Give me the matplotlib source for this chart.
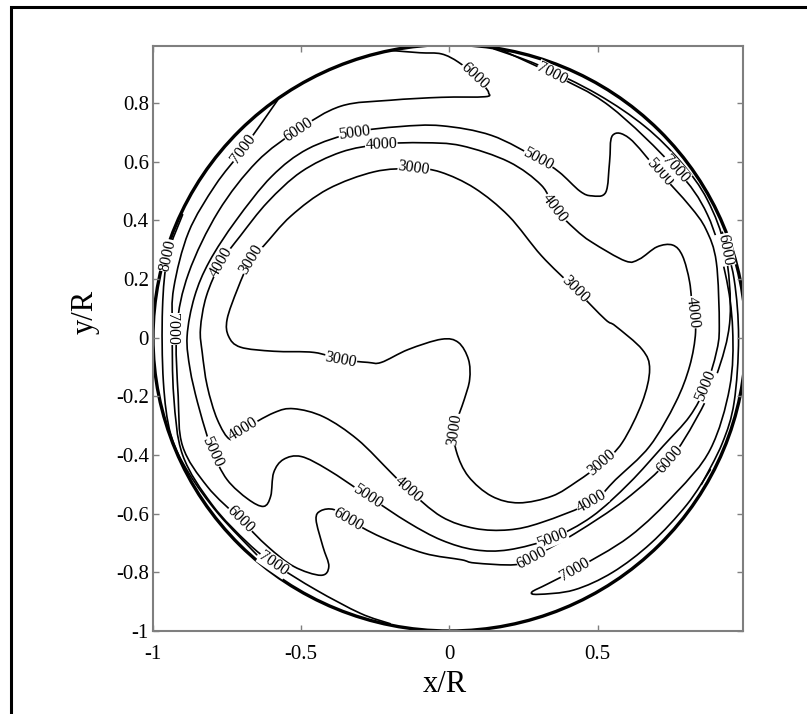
import numpy as np
import matplotlib
matplotlib.use("Agg")
import matplotlib.pyplot as plt
from matplotlib.patches import Circle, Rectangle, PathPatch
from matplotlib.path import Path

plt.rcParams['font.family'] = ['Liberation Serif', 'DejaVu Serif']

# ---------------- data (x/R, y/R) ----------------
c3000_x = [-0.12, -0.03, 0.085, 0.20, 0.31, 0.424, 0.525, 0.56, 0.65, 0.675, 0.65, 0.583, 0.515,
           0.43, 0.346, 0.234, 0.142, 0.064, 0.024, 0.017, 0.05, 0.068, 0.064, 0.03, -0.027, -0.139,
           -0.23, -0.275, -0.366, -0.457, -0.593, -0.705, -0.745, -0.75, -0.715, -0.67, -0.627,
           -0.535, -0.41, -0.254, -0.12]
c3000_y = [0.577, 0.565, 0.51, 0.415, 0.28, 0.166, 0.063, 0.04, -0.04, -0.108, -0.22, -0.357, -0.427,
           -0.49, -0.54, -0.563, -0.54, -0.473, -0.39, -0.313, -0.21, -0.142, -0.074, -0.016, -0.005,
           -0.04, -0.084, -0.084, -0.074, -0.05, -0.046, -0.032, 0.005, 0.063, 0.166, 0.268, 0.313,
           0.415, 0.507, 0.566, 0.577]

c4000_x = [-0.23, -0.09, 0.04, 0.2, 0.31, 0.356, 0.424, 0.48, 0.593, 0.64, 0.70, 0.753, 0.786, 0.81,
           0.82, 0.83, 0.81, 0.763, 0.675, 0.56, 0.48, 0.31, 0.2, 0.085, -0.027, -0.139, -0.197, -0.31,
           -0.424, -0.525, -0.593, -0.695, -0.739, -0.783, -0.817, -0.834, -0.84, -0.82, -0.77, -0.705,
           -0.613, -0.5, -0.366, -0.23]
c4000_y = [0.66, 0.665, 0.655, 0.6, 0.52, 0.44, 0.37, 0.326, 0.262, 0.268, 0.31, 0.316, 0.279, 0.19,
           0.087, 0.018, -0.097, -0.22, -0.37, -0.484, -0.56, -0.63, -0.655, -0.65, -0.61, -0.518,
           -0.46, -0.347, -0.27, -0.242, -0.256, -0.313, -0.347, -0.279, -0.165, -0.05, 0.03, 0.142,
           0.258, 0.348, 0.463, 0.566, 0.633, 0.66]

c5000_x = [-0.32, -0.17, -0.027, 0.142, 0.3, 0.37, 0.44, 0.48, 0.527, 0.54, 0.55, 0.607, 0.708, 0.81,
           0.865, 0.9, 0.91, 0.9, 0.865, 0.81, 0.72, 0.607, 0.48, 0.346, 0.2, 0.085, -0.027, -0.139,
           -0.275, -0.41, -0.5, -0.56, -0.593, -0.603, -0.627, -0.68, -0.75, -0.8, -0.817, -0.85,
           -0.875, -0.885, -0.86, -0.81, -0.72, -0.6, -0.478, -0.32]
c5000_y = [0.70, 0.72, 0.723, 0.69, 0.61, 0.565, 0.5, 0.484, 0.496, 0.6, 0.69, 0.68, 0.565, 0.45,
           0.37, 0.258, 0.04, -0.05, -0.165, -0.268, -0.37, -0.495, -0.61, -0.683, -0.723, -0.723,
           -0.69, -0.63, -0.54, -0.45, -0.405, -0.415, -0.46, -0.54, -0.575, -0.55, -0.484, -0.39,
           -0.336, -0.22, -0.107, 0.005, 0.14, 0.26, 0.40, 0.55, 0.644, 0.70]

c6000_x = [-0.2, -0.1, -0.027, 0.03, 0.085, 0.12, 0.132, 0.12, -0.027, -0.2, -0.366, -0.51, -0.65,
           -0.78, -0.88, -0.92, -0.915, -0.9, -0.817, -0.705, -0.613, -0.525, -0.434, -0.407, -0.427,
           -0.45, -0.434, -0.39, -0.342, -0.23, -0.085, 0.04, 0.085, 0.22, 0.278, 0.424, 0.593, 0.742,
           0.83, 0.9, 0.946, 0.93, 0.87, 0.78, 0.66, 0.5, 0.3, 0.15]
c6000_y = [0.98, 0.972, 0.968, 0.94, 0.894, 0.855, 0.835, 0.822, 0.82, 0.81, 0.79, 0.71, 0.6, 0.43,
           0.22, 0.03, -0.2, -0.37, -0.507, -0.62, -0.712, -0.78, -0.81, -0.78, -0.712, -0.62, -0.59,
           -0.586, -0.62, -0.68, -0.735, -0.757, -0.768, -0.774, -0.75, -0.667, -0.552, -0.415, -0.28,
           -0.13, 0.063, 0.3, 0.47, 0.6, 0.72, 0.83, 0.93, 0.985]

c7000a_x = [-0.58, -0.695, -0.79, -0.88, -0.93, -0.935, -0.93, -0.9, -0.8, -0.68, -0.593, -0.45,
            -0.3, -0.2]
c7000a_y = [0.81, 0.645, 0.52, 0.36, 0.17, 0.03, -0.2, -0.4, -0.57, -0.7, -0.77, -0.86, -0.94, -0.975]

c7000b_x = [0.166, 0.346, 0.54, 0.763, 0.87, 0.93, 0.955, 0.945, 0.88, 0.763, 0.607, 0.424, 0.33,
            0.278, 0.30, 0.42, 0.55, 0.68, 0.8, 0.88]
c7000b_y = [0.986, 0.9, 0.79, 0.576, 0.42, 0.22, 0.03, -0.17, -0.38, -0.53, -0.678, -0.79, -0.84,
            -0.867, -0.875, -0.86, -0.80, -0.70, -0.57, -0.45]

c8000a_x = [-0.9, -0.95, -0.968, -0.965, -0.94, -0.88, -0.78, -0.65]
c8000a_y = [0.42, 0.28, 0.1, -0.15, -0.33, -0.46, -0.6, -0.74]
c8000b_x = [0.92, 0.96, 0.975, 0.96, 0.92, 0.85]
c8000b_y = [0.36, 0.2, 0.0, -0.22, -0.36, -0.5]

level_values = [3000, 4000, 5000, 6000, 7000, 7000, 8000, 8000]

# label spots (approximate positions on the lines)
label_spots = [
    (0, -0.12, 0.577), (0, -0.67, 0.268), (0, -0.366, -0.074), (0, 0.017, -0.313),
    (0, 0.515, -0.427), (0, 0.424, 0.166),
    (1, -0.23, 0.66), (1, -0.695, -0.313), (1, -0.139, -0.518), (1, 0.48, -0.56),
    (1, 0.356, 0.44), (1, 0.82, 0.087), (1, -0.77, 0.258),
    (2, -0.32, 0.70), (2, 0.3, 0.61), (2, 0.708, 0.565), (2, -0.275, -0.54), (2, 0.346, -0.683),
    (2, 0.865, -0.165), (2, -0.8, -0.39),
    (3, 0.085, 0.894), (3, -0.457, 0.70), (3, -0.705, -0.62), (3, -0.342, -0.62),
    (3, 0.278, -0.75), (3, 0.76, -0.40), (3, 0.93, 0.30),
    (4, -0.695, 0.645), (4, -0.593, -0.77), (4, -0.935, -0.05),
    (5, 0.346, 0.9), (5, 0.38, -0.81), (5, 0.80, 0.54),
    (6, -0.965, 0.2),
]

# ---------------- figure ----------------
fig = plt.figure(figsize=(8.07, 7.14), dpi=100)
ax = fig.add_axes([153 / 807, 1 - 631 / 714, 590 / 807, 585 / 714])
ax.set_xlim(-1, 0.99)
ax.set_ylim(-1, 0.995)

lines = [(c3000_x, c3000_y), (c4000_x, c4000_y), (c5000_x, c5000_y), (c6000_x, c6000_y),
         (c7000a_x, c7000a_y), (c7000b_x, c7000b_y), (c8000a_x, c8000a_y), (c8000b_x, c8000b_y)]


def smooth_path(xs, ys):
    """Catmull-Rom curve through the read points, drawn as cubic Bezier segments."""
    P = np.column_stack([xs, ys]).astype(float)
    closed = np.allclose(P[0], P[-1])
    if closed:
        Q = P[:-1]
        ext = np.vstack([Q[-1], Q, Q[0], Q[1]])
    else:
        ext = np.vstack([P[0], P, P[-1]])
    verts = [ext[1]]
    codes = [Path.MOVETO]
    for i in range(1, len(ext) - 2):
        p0, p1, p2, p3 = ext[i - 1], ext[i], ext[i + 1], ext[i + 2]
        verts += [p1 + (p2 - p0) / 6.0, p2 - (p3 - p1) / 6.0, p2]
        codes += [Path.CURVE4] * 3
    return Path(verts, codes)


for xs, ys in lines:
    ax.add_patch(PathPatch(smooth_path(xs, ys), fill=False, ec='black', lw=1.2,
                           joinstyle='round', capstyle='round'))

ax.add_patch(Circle((0, 0), 1.0, fill=False, lw=2.4, ec='black'))


def put_label(idx, px, py):
    xs, ys = lines[idx]
    pts = ax.transData.transform(np.column_stack([xs, ys]))
    target = ax.transData.transform((px, py))
    k = int(np.argmin(np.hypot(pts[:, 0] - target[0], pts[:, 1] - target[1])))
    k0, k1 = max(k - 1, 0), min(k + 1, len(xs) - 1)
    dx, dy = pts[k1] - pts[k0]
    ang = np.degrees(np.arctan2(dy, dx))
    if ang > 90:
        ang -= 180
    if ang < -90:
        ang += 180
    ax.text(xs[k], ys[k], str(level_values[idx]), fontsize=11.5, rotation=ang,
            rotation_mode='anchor', ha='center', va='center',
            bbox=dict(fc='white', ec='none', pad=0.2), zorder=5)


for idx, px, py in label_spots:
    put_label(idx, px, py)

for s in ax.spines.values():
    s.set_color('#7f7f7f')
    s.set_linewidth(1.5)
ax.tick_params(direction='in', top=True, right=True, length=4, width=1, color='#7f7f7f',
               labelsize=15)
ax.tick_params(axis='x', pad=10)
ax.tick_params(axis='y', pad=3)
ax.set_xticks([-1, -0.5, 0, 0.5])
ax.set_xticklabels(['-1', '-0.5', '0', '0.5'])
ax.set_yticks([-1, -0.8, -0.6, -0.4, -0.2, 0, 0.2, 0.4, 0.6, 0.8])
ax.set_yticklabels(['-1', '-0.8', '-0.6', '-0.4', '-0.2', '0', '0.2', '0.4', '0.6', '0.8'])
ax.set_xlabel('x/R', fontsize=22)
ax.set_ylabel('y/R', fontsize=22)
ax.xaxis.set_label_coords(0.495, -0.066)
ax.yaxis.set_label_coords(-0.09, 0.545)

fig.add_artist(Rectangle((11 / 807, -0.1), 2.0, 1.1 - 7 / 714, transform=fig.transFigure,
                         fill=False, lw=2.2, ec='black'))

fig.savefig('out.png', dpi=100)
